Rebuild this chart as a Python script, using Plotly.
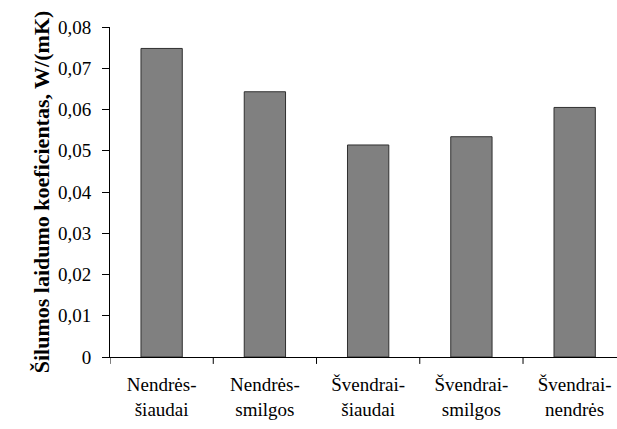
import plotly.graph_objects as go

categories = ["Nendrės-<br>šiaudai", "Nendrės-<br>smilgos", "Švendrai-<br>šiaudai", "Švendrai-<br>smilgos", "Švendrai-<br>nendrės"]
values = [0.0748, 0.0643, 0.0514, 0.0534, 0.0605]
y_ticks = [0, 0.01, 0.02, 0.03, 0.04, 0.05, 0.06, 0.07, 0.08]
y_ticktext = ["0", "0,01", "0,02", "0,03", "0,04", "0,05", "0,06", "0,07", "0,08"]

font_family = "Liberation Serif, Times New Roman, serif"

fig = go.Figure(go.Bar(
    x=list(range(len(categories))), y=values,
    marker=dict(color="#808080", line=dict(color="#303030", width=1)),
    width=0.40,
))

fig.update_layout(
    width=617, height=429,
    margin=dict(l=110, r=0, t=27, b=72),
    paper_bgcolor="white", plot_bgcolor="white",
    font=dict(family=font_family, size=19, color="black"),
    showlegend=False,
)
fig.update_xaxes(
    tickmode="array", tickvals=list(range(len(categories))), ticktext=categories,
    range=[-0.5, 4.41], showline=True, linecolor="black", linewidth=1,
    ticks="", showgrid=False, zeroline=False, automargin=False,
    ticklabelstandoff=10,
    tickfont=dict(family=font_family, size=19),
)
fig.update_yaxes(
    range=[0, 0.08], tickmode="array", tickvals=y_ticks, ticktext=y_ticktext,
    showline=True, linecolor="black", linewidth=1, ticks="outside", ticklen=7,
    tickcolor="black", showgrid=False, zeroline=False, automargin=False,
    ticklabelstandoff=7,
    tickfont=dict(family=font_family, size=19),
    title=dict(text="<b>Šilumos laidumo koeficientas, W/(mK)</b>",
               font=dict(family=font_family, size=22), standoff=2),
)

# x-axis boundary tick marks (category boundaries)
for b in [-0.5, 0.5, 1.5, 2.5, 3.5]:
    fig.add_shape(type="line", xref="x", yref="paper", x0=b, x1=b, y0=0, y1=-0.021,
                  line=dict(color="black", width=1))

fig.write_html("out.html", config={"displayModeBar": False},
               post_script="document.body.style.margin='0';document.body.style.overflow='hidden';")
